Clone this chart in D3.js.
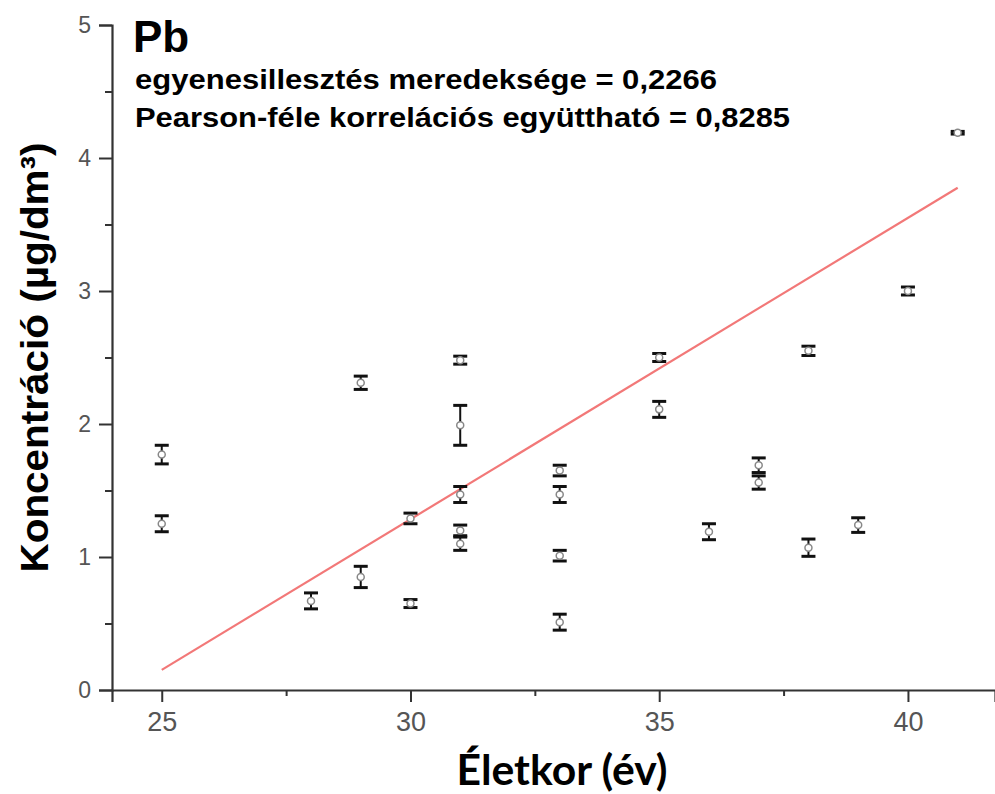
<!DOCTYPE html>
<html>
<head>
<meta charset="utf-8">
<script src="https://cdn.jsdelivr.net/npm/d3@7/dist/d3.min.js"></script>
<style>
  html, body { margin: 0; padding: 0; background: #fff; }
  svg { display: block; }
</style>
</head>
<body>
<svg id="chart" width="995" height="794"></svg>
<script>
// Age of each subject (years)
const ages = [25, 25, 28, 29, 29, 30, 30, 31, 31, 31, 31, 31, 33, 33, 33, 33, 35, 35, 36, 37, 37, 38, 38, 39, 40, 41];
// Mean Pb concentration (µg/dm³)
const concentrations = [1.77, 1.25, 0.67, 2.31, 0.85, 1.29, 0.65, 2.48, 1.99, 1.47, 1.20, 1.10, 1.65, 1.47, 1.01, 0.51, 2.50, 2.11, 1.19, 1.69, 1.56, 2.55, 1.07, 1.24, 3.00, 4.19];
// Standard deviation of each measurement
const deviations = [0.07, 0.06, 0.06, 0.05, 0.08, 0.04, 0.03, 0.03, 0.15, 0.06, 0.04, 0.05, 0.04, 0.06, 0.04, 0.06, 0.03, 0.06, 0.06, 0.055, 0.05, 0.035, 0.065, 0.055, 0.03, 0.01];

// Linear fit
const fitSlope = 0.2266;
const fitIntercept = -5.514;
const fitRange = [25, 41];
const pearson = 0.8285;

const xTicks = [25, 30, 35, 40];
const xMinorTicks = [27.5, 32.5, 37.5];
const yTicks = [0, 1, 2, 3, 4, 5];
const yMinorTicks = [0.5, 1.5, 2.5, 3.5, 4.5];

const fmt = v => String(v).replace('.', ',');

const svg = d3.select('#chart');
const x = d3.scaleLinear().domain([24, 41.75]).range([112, 995]);
const y = d3.scaleLinear().domain([0, 5]).range([690, 25]);

const axisColor = '#333';
const labelColor = '#555';

// Axes
const gx = svg.append('g').attr('transform', `translate(0,${y(0)})`)
  .call(d3.axisBottom(x).tickValues(xTicks).tickSize(12).tickPadding(10).tickFormat(d3.format('d')));
svg.append('g').attr('transform', `translate(0,${y(0)})`)
  .call(d3.axisBottom(x).tickValues(xMinorTicks).tickSize(6).tickFormat(''))
  .call(g => g.select('.domain').remove());
const gy = svg.append('g').attr('transform', `translate(${x(24)},0)`)
  .call(d3.axisLeft(y).tickValues(yTicks).tickSize(13).tickPadding(8).tickFormat(d3.format('d')));
svg.append('g').attr('transform', `translate(${x(24)},0)`)
  .call(d3.axisLeft(y).tickValues(yMinorTicks).tickSize(7).tickFormat(''))
  .call(g => g.select('.domain').remove());

svg.selectAll('.domain').attr('stroke', axisColor).attr('stroke-width', 2.2);
svg.selectAll('.tick line').attr('stroke', axisColor).attr('stroke-width', 2);
gx.selectAll('.tick text')
  .attr('fill', labelColor)
  .style('font-family', '"Liberation Sans Narrow", "Liberation Sans", Arial, sans-serif')
  .style('font-size', '27px');
gy.selectAll('.tick text')
  .attr('fill', labelColor)
  .style('font-family', '"Liberation Sans", Arial, sans-serif')
  .style('font-size', '23px');

// Fit line
svg.append('line')
  .attr('x1', x(fitRange[0])).attr('y1', y(fitSlope * fitRange[0] + fitIntercept))
  .attr('x2', x(fitRange[1])).attr('y2', y(fitSlope * fitRange[1] + fitIntercept))
  .attr('stroke', '#f27878').attr('stroke-width', 2.2);

// Error bars and markers
const points = ages.map((a, i) => ({ age: a, c: concentrations[i], sd: deviations[i] }));
const capHalf = 7;
const pg = svg.append('g').selectAll('g').data(points).join('g');
pg.append('line')
  .attr('x1', d => x(d.age)).attr('x2', d => x(d.age))
  .attr('y1', d => y(d.c + d.sd)).attr('y2', d => y(d.c - d.sd))
  .attr('stroke', '#111').attr('stroke-width', 2);
pg.append('line')
  .attr('x1', d => x(d.age) - capHalf).attr('x2', d => x(d.age) + capHalf)
  .attr('y1', d => y(d.c + d.sd)).attr('y2', d => y(d.c + d.sd))
  .attr('stroke', '#111').attr('stroke-width', 3);
pg.append('line')
  .attr('x1', d => x(d.age) - capHalf).attr('x2', d => x(d.age) + capHalf)
  .attr('y1', d => y(d.c - d.sd)).attr('y2', d => y(d.c - d.sd))
  .attr('stroke', '#111').attr('stroke-width', 3);
pg.append('circle')
  .attr('cx', d => x(d.age)).attr('cy', d => y(d.c)).attr('r', 3.5)
  .attr('fill', '#fff').attr('stroke', '#888').attr('stroke-width', 1.5);

// Title and statistics
const head = svg.append('g').style('font-family', '"Liberation Sans", Arial, sans-serif').style('font-weight', 'bold').attr('fill', '#000');
head.append('text').attr('x', 133).attr('y', 52).style('font-size', '44px').text('Pb');
head.append('text').attr('x', 135).attr('y', 89).style('font-size', '27px')
  .attr('textLength', 582).attr('lengthAdjust', 'spacingAndGlyphs')
  .text(`egyenesillesztés meredeksége = ${fmt(fitSlope)}`);
head.append('text').attr('x', 135).attr('y', 127).style('font-size', '27px')
  .attr('textLength', 655).attr('lengthAdjust', 'spacingAndGlyphs')
  .text(`Pearson-féle korrelációs együttható = ${fmt(pearson)}`);

// Axis titles
svg.append('text')
  .attr('x', 562).attr('y', 785)
  .attr('text-anchor', 'middle')
  .attr('textLength', 211).attr('lengthAdjust', 'spacingAndGlyphs')
  .style('font-family', 'Lato, "Open Sans", sans-serif').style('font-weight', 'bold').style('font-size', '42px')
  .text('Életkor (év)');

svg.append('text')
  .attr('transform', `translate(48, ${y(2.5)}) rotate(-90)`)
  .attr('text-anchor', 'middle')
  .attr('textLength', 430).attr('lengthAdjust', 'spacingAndGlyphs')
  .style('font-family', '"Liberation Sans", Arial, sans-serif').style('font-weight', 'bold').style('font-size', '38px')
  .text('Koncentráció (µg/dm³)');
</script>
</body>
</html>
